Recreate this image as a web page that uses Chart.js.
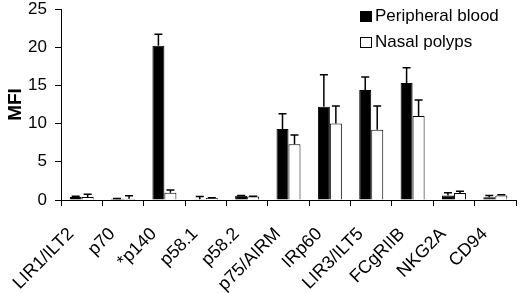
<!DOCTYPE html>
<html>
<head>
<meta charset="utf-8">
<script src="https://cdn.jsdelivr.net/npm/chart.js@4"></script>
<style>
  body { margin: 0; background: #fff; }
  #wrap { position: relative; width: 520px; height: 293px; }
  .legend { position: absolute; left: 360px; top: 3px; font: 17px "Liberation Sans", Arial, sans-serif; color: #000; }
  .legend div { display: flex; align-items: center; height: 26px; }
  .legend span.box { display: inline-block; width: 12px; height: 11px; border: 1px solid #000; margin-right: 3px; box-sizing: border-box; }
</style>
</head>
<body>
<div id="wrap">
  <canvas id="grafico"></canvas>
  <div class="legend">
    <div><span class="box" style="background:#000"></span>Peripheral blood</div>
    <div><span class="box" style="background:#fff"></span>Nasal polyps</div>
  </div>
</div>
<script>
const categorias = ['LIR1/ILT2', 'p70', '*p140', 'p58.1', 'p58.2', 'p75/AIRM', 'IRp60', 'LIR3/ILT5', 'FCgRIIB', 'NKG2A', 'CD94'];
const sangue = [0.4, 0.15, 20.2, 0.1, 0.55, 9.3, 12.2, 14.4, 15.3, 0.6, 0.35];
const sangueDp = [0.1, 0.05, 1.5, 0.35, 0.05, 2.0, 4.2, 1.7, 2.0, 0.35, 0.25];
const polipos = [0.4, 0.15, 0.95, 0.25, 0.45, 7.3, 10.0, 9.2, 11.0, 0.9, 0.6];
const poliposDp = [0.35, 0.4, 0.35, 0.05, 0.05, 1.2, 2.3, 3.1, 2.1, 0.25, 0.1];
const ticksY = [0, 5, 10, 15, 20, 25];

const fonte = '"Liberation Sans", Arial, sans-serif';

const barrasErro = {
    id: 'barrasErro',
    afterDatasetsDraw(chart) {
        const ctx = chart.ctx;
        const y = chart.scales.y;
        ctx.save();
        ctx.strokeStyle = '#000';
        ctx.lineWidth = 1.5;
        chart.data.datasets.forEach((ds, i) => {
            const meta = chart.getDatasetMeta(i);
            meta.data.forEach((bar, j) => {
                const topo = y.getPixelForValue(ds.data[j] + ds.erro[j]);
                ctx.beginPath();
                ctx.moveTo(bar.x, bar.y);
                ctx.lineTo(bar.x, topo);
                ctx.moveTo(bar.x - 4, topo);
                ctx.lineTo(bar.x + 4, topo);
                ctx.stroke();
            });
        });
        ctx.restore();
    }
};

new Chart(document.getElementById('grafico'), {
    type: 'bar',
    data: {
        labels: categorias,
        datasets: [
            {
                label: 'Peripheral blood',
                data: sangue,
                erro: sangueDp,
                backgroundColor: '#000',
                borderColor: '#000',
                borderWidth: 1,
                categoryPercentage: 0.58,
                barPercentage: 1.0
            },
            {
                label: 'Nasal polyps',
                data: polipos,
                erro: poliposDp,
                backgroundColor: '#fff',
                borderColor: '#000',
                borderWidth: 1,
                categoryPercentage: 0.58,
                barPercentage: 1.0
            }
        ]
    },
    options: {
        responsive: true,
        maintainAspectRatio: false,
        animation: false,
        layout: { padding: { top: 0, right: 4, left: 4, bottom: 0 } },
        plugins: {
            legend: { display: false },
            tooltip: { enabled: false }
        },
        scales: {
            y: {
                min: 0,
                max: 25,
                afterBuildTicks: axis => { axis.ticks = ticksY.map(v => ({ value: v })); },
                border: { color: '#000', width: 1 },
                grid: { drawOnChartArea: false, drawTicks: true, tickLength: 6, color: '#000' },
                ticks: { color: '#000', font: { family: fonte, size: 17 }, padding: 8 },
                title: { display: true, text: 'MFI', color: '#000', font: { family: fonte, size: 19, weight: 'bold' }, padding: 0 },
                afterFit: axis => { axis.width = 57; axis.paddingTop = 9; }
            },
            x: {
                border: { color: '#000', width: 1 },
                grid: { drawOnChartArea: false, drawTicks: true, tickLength: 6, color: '#000' },
                ticks: {
                    color: '#000',
                    font: { family: fonte, size: 18 },
                    maxRotation: 45,
                    minRotation: 45,
                    padding: 7,
                    // folga ao longo do texto inclinado, como no original
                    callback: function (v) { return this.getLabelForValue(v) + '   '; }
                },
                afterFit: axis => { axis.height = 93; }
            }
        }
    },
    plugins: [barrasErro]
});
</script>
</body>
</html>
